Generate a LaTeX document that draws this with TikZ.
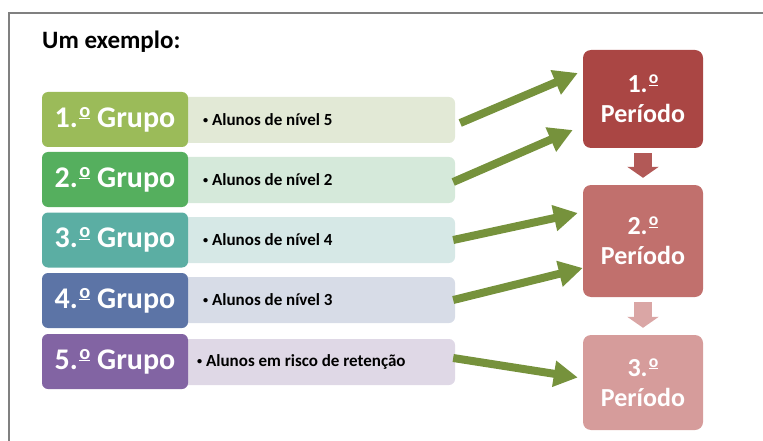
\documentclass[tikz,border=0pt]{standalone}
\usepackage{fontspec}
\setmainfont{Carlito}
\usetikzlibrary{arrows.meta}
\definecolor{grpA}{HTML}{9BBB59}
\definecolor{grpB}{HTML}{55AF5E}
\definecolor{grpC}{HTML}{5BAEA3}
\definecolor{grpD}{HTML}{5C74A6}
\definecolor{grpE}{HTML}{8264A3}
\definecolor{lightA}{HTML}{E2E9D6}
\definecolor{lightB}{HTML}{D5E9DA}
\definecolor{lightC}{HTML}{D6E8E6}
\definecolor{lightD}{HTML}{D7DCE7}
\definecolor{lightE}{HTML}{DFD8E6}
\definecolor{perA}{HTML}{AA4644}
\definecolor{perB}{HTML}{C1706D}
\definecolor{perC}{HTML}{D69C9B}
\definecolor{arrowgreen}{HTML}{76923C}
\definecolor{framegray}{HTML}{808080}
% ordinal sign and small bullet
\newcommand{\ordsym}{\kern0.05em\raisebox{0.34em}{\scalebox{0.68}{\underline{o}}}}
\newcommand{\smallbul}{\raisebox{0.12em}{\scalebox{0.6}{•}}}
\tikzset{
  grpbox/.style={rectangle, rounded corners=6pt, minimum width=146pt, minimum height=55pt,
    text=white, font=\fontsize{30}{32}\selectfont\bfseries},
  descbox/.style={rectangle, rounded corners=6pt, minimum width=280pt, minimum height=46pt},
  desctext/.style={anchor=west, inner sep=0pt, font=\fontsize{17}{19}\selectfont\bfseries},
  perbox/.style={rectangle, rounded corners=8pt, minimum width=120pt, text width=110pt,
    align=center, text=white, font=\fontsize{26}{30}\selectfont\bfseries},
  grarrow/.style={draw=arrowgreen, line width=8pt, -{Triangle[length=24pt,width=25pt]}},
  downarrow/.style={line width=18pt, -{Triangle[length=11pt,width=31pt]}},
}

\begin{document}
\begin{tikzpicture}[x=1pt, y=-1pt]
  \useasboundingbox (0,0) rectangle (763,441);
  % frame
  \draw[framegray, line width=2pt] (9,441) -- (9,13) -- (764,13);
  \node[anchor=base west, inner sep=0pt, font=\fontsize{25}{27}\selectfont\bfseries] (title) at (42,49) {Um exemplo:};
  % descriptions
  \node[descbox, fill=lightA] (d1) at (315,120) {};
  \node[descbox, fill=lightB] (d2) at (315,180) {};
  \node[descbox, fill=lightC] (d3) at (315,240) {};
  \node[descbox, fill=lightD] (d4) at (315,300) {};
  \node[descbox, fill=lightE] (d5) at (315,362) {};
  \node[desctext] (t1) at (203,120) {\smallbul\ Alunos de nível 5};
  \node[desctext] (t2) at (203,180) {\smallbul\ Alunos de nível 2};
  \node[desctext] (t3) at (203,240) {\smallbul\ Alunos de nível 4};
  \node[desctext] (t4) at (203,300) {\smallbul\ Alunos de nível 3};
  \node[desctext] (t5) at (197,362) {\smallbul\ Alunos em risco de retenção};
  % groups
  \node[grpbox, fill=grpA] (g1) at (115,119.5) {1.\ordsym\ Grupo};
  \node[grpbox, fill=grpB] (g2) at (115,179.5) {2.\ordsym\ Grupo};
  \node[grpbox, fill=grpC] (g3) at (115,240) {3.\ordsym\ Grupo};
  \node[grpbox, fill=grpD] (g4) at (115,300.5) {4.\ordsym\ Grupo};
  \node[grpbox, fill=grpE] (g5) at (115,361.5) {5.\ordsym\ Grupo};
  % periods
  \node[perbox, fill=perA, minimum height=98pt] (p1) at (643,99) {1.\ordsym\\Período};
  \node[perbox, fill=perB, minimum height=112pt] (p2) at (643,241) {2.\ordsym\\Período};
  \node[perbox, fill=perC, minimum height=95pt] (p3) at (643,382.5) {3.\ordsym\\Período};
  % arrows
  \draw[downarrow, draw=perA!90!white] ([yshift=-5pt]p1.south) -- ([yshift=7pt]p2.north);
  \draw[downarrow, draw=perC!90!white] ([yshift=-5pt]p2.south) -- ([yshift=7pt]p3.north);
  \draw[grarrow] ([xshift=5pt,yshift=-3pt]d1.east) -- ([xshift=-5pt,yshift=26pt]p1.west);
  \draw[grarrow] ([xshift=-2pt,yshift=-2pt]d2.east) -- ([xshift=-10pt,yshift=-31pt]p1.west);
  \draw[grarrow] ([xshift=-2pt]d3.east) -- ([xshift=-5pt,yshift=28pt]p2.west);
  \draw[grarrow] ([xshift=-2pt]d4.east) -- ([xshift=0pt,yshift=-27pt]p2.west);
  \draw[grarrow] ([xshift=-2pt,yshift=4pt]d5.east) -- ([xshift=-5pt,yshift=5pt]p3.west);
\end{tikzpicture}
\end{document}
